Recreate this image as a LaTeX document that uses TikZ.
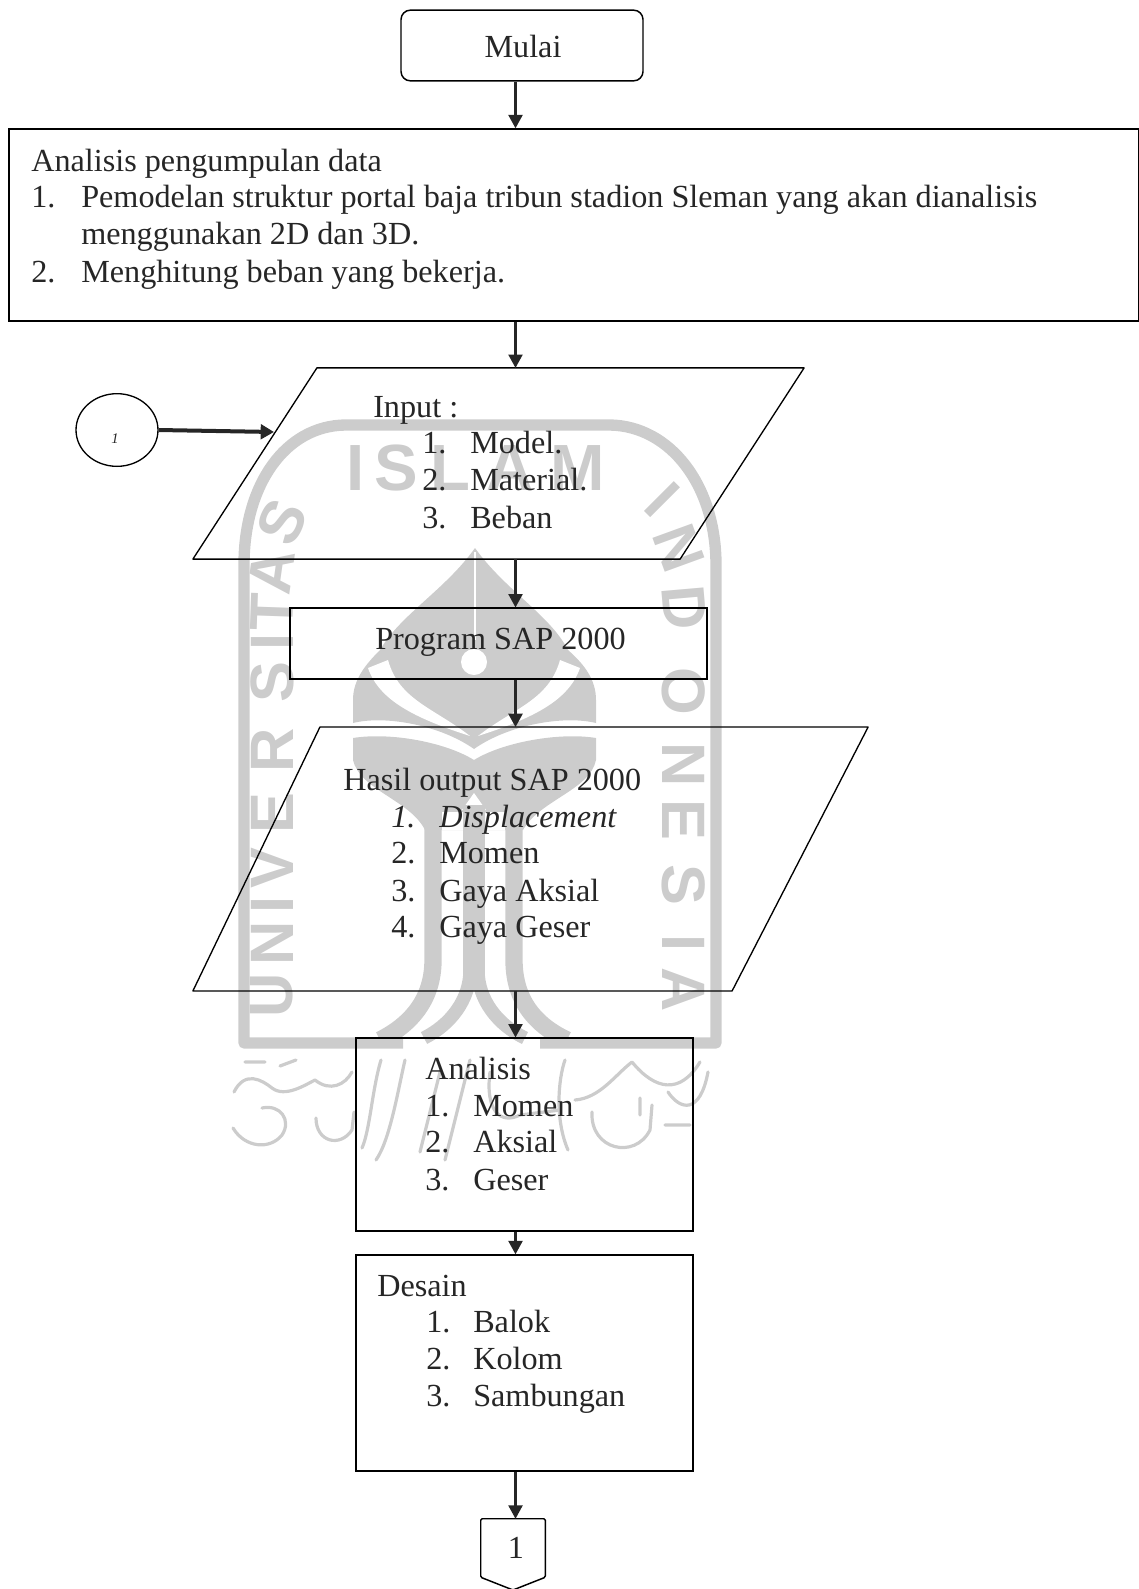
\documentclass[tikz,border=0pt]{standalone}
\usepackage{fontspec}
\setmainfont{Liberation Serif}
\newfontfamily\wmfont{Liberation Sans}
\usetikzlibrary{arrows.meta,shapes.geometric,calc}
\definecolor{wm}{gray}{0.80}
\tikzset{
  x=0.75pt,y=-0.75pt,
  every node/.style={font=\fontsize{24.15}{28}\selectfont,text=black!85},
  boxed/.style={draw=black,line width=1.1pt,inner sep=0,rectangle},
  parabox/.style={inner sep=0,rectangle},
  paraline/.style={draw=black,line width=1pt,line join=round},
  lbl/.style={anchor=base west,inner sep=0,yshift=-0.75pt},
  flow/.style={draw=black!85,line width=1.6pt,-{Triangle[length=10pt,width=10.5pt]}},
  wmline/.style={draw=wm,line cap=round,line join=round},
  wmletter/.style={inner sep=0,text=wm,font=\wmfont\bfseries\fontsize{46}{46}\selectfont}
}
\begin{document}
\begin{tikzpicture}
\useasboundingbox (0,0) rectangle (1139,1589);
% --- watermark
\draw[draw=wm,line width=8.5pt,line join=round] (403,1043) -- (244,1043) -- (244,565) .. controls (244,485) and (285,426) .. (345,425) -- (610,425) .. controls (670,426) and (716,485) .. (716,565) -- (716,1043) -- (540,1043);
\foreach \l/\xx/\yy/\r [count=\i] in {U/272/995/90,N/272/943/90,I/272/905/90,V/272/868/90,E/272/813/90,R/272/750/90,S/272/682/90,I/272/642/90,T/272/612/88,A/272/572/82,S/282/522/65}
  \node[wmletter,rotate=\r] (wu\i) at (\xx,\yy) {\l};
\foreach \l/\xx [count=\i] in {I/356,S/396,L/450,A/510,M/578}
  \node[wmletter,font=\wmfont\bfseries\fontsize{49}{49}\selectfont] (wi\i) at (\xx,468) {\l};
\foreach \l/\xx/\yy/\r [count=\i] in {I/662/500/-45,N/679/548/-70,D/684/608/-85,O/684/691/-90,N/684/765/-90,E/684/820/-90,S/684/885/-90,I/684/943/-90,A/684/990/-90}
  \node[wmletter,rotate=\r] (wn\i) at (\xx,\yy) {\l};
% flame with wings
\fill[wm] (475,548) .. controls (445,590) and (400,615) .. (380,650) .. controls (365,665) and (353,680) .. (353,700) -- (353,723) .. controls (385,715) and (440,725) .. (474,749) .. controls (508,725) and (563,715) .. (596,723) -- (596,700) .. controls (596,680) and (585,665) .. (568,650) .. controls (550,615) and (505,590) .. (475,548) -- cycle;
\fill[white] (474,662) circle[radius=13];
\draw[white,line width=1pt] (475,552) -- (475,640);
\foreach \s in {1,-1}{
  \begin{scope}[shift={(474,0)},xscale=\s]
    \fill[white] (-106,668) .. controls (-95,700) and (-60,718) .. (-4,736) .. controls (-40,708) and (-75,700) .. (-86,660) -- cycle;
  \end{scope}
}
% lower mass and columns
\fill[wm] (353,738) .. controls (390,732) and (445,742) .. (474,760) .. controls (503,742) and (560,732) .. (596,738) -- (596,760) .. controls (590,790) and (540,800) .. (523,830) -- (425,830) .. controls (410,800) and (360,790) .. (353,760) -- cycle;
\fill[white] (474,793) -- (462,810) -- (486,810) -- cycle;
\fill[white] (442,830) -- (463,830) -- (463,812) -- (442,812) -- cycle (485,830) -- (505,830) -- (505,812) -- (485,812) -- cycle;
\draw[draw=wm,line width=13pt] (433,825) -- (433,960) .. controls (433,1000) and (410,1025) .. (380,1040);
\draw[draw=wm,line width=13pt] (514,825) -- (514,960) .. controls (514,1000) and (535,1025) .. (567,1040);
\draw[draw=wm,line width=16pt] (474,805) -- (474,975);
\draw[draw=wm,line width=10pt] (470,970) .. controls (470,1000) and (450,1025) .. (424,1038);
\draw[draw=wm,line width=10pt] (478,970) .. controls (478,1000) and (498,1025) .. (525,1038);
% calligraphy
\draw[wmline,line width=2.4pt] (234,1092) .. controls (245,1070) and (262,1080) .. (272,1088) .. controls (285,1098) and (305,1085) .. (315,1080) .. controls (330,1092) and (345,1085) .. (352,1072)
  (245,1062) -- (265,1062) (280,1066) -- (296,1060)
  (262,1108) .. controls (280,1104) and (292,1120) .. (282,1135) .. controls (270,1150) and (245,1148) .. (233,1128)
  (316,1118) .. controls (316,1142) and (340,1148) .. (352,1130) -- (354,1112)
  (381,1060) .. controls (372,1090) and (370,1130) .. (362,1148)
  (405,1060) .. controls (398,1090) and (390,1140) .. (376,1160)
  (440,1072) -- (420,1152) (470,1060) -- (445,1160) (490,1072) .. controls (485,1110) and (500,1125) .. (520,1115) -- (560,1110)
  (565,1060) .. controls (558,1080) and (555,1120) .. (568,1150)
  (575,1100) .. controls (600,1098) and (615,1075) .. (632,1062) .. controls (655,1090) and (680,1095) .. (700,1062)
  (592,1112) .. controls (590,1150) and (635,1160) .. (650,1130) -- (652,1105)
  (668,1092) .. controls (680,1110) and (700,1115) .. (708,1072)
  (640,1098) -- (640,1115) (665,1125) -- (690,1125);
% --- boxes
\node[boxed,rounded corners=7pt,minimum width=181.5pt,minimum height=53pt] (mulai) at (522,45.5) {};
\node[anchor=center] (tmulai) at (523,46) {Mulai};
\node[boxed,minimum width=847.5pt,minimum height=144pt] (data) at (574,225) {};
\node[parabox,minimum width=458pt,minimum height=143pt] (input) at (498.5,463.5) {};
\draw[paraline] ($(input.north west)+(124,0)$) -- (input.north east) -- ($(input.south east)+(-124,0)$) -- (input.south west) -- cycle;
\node[boxed,minimum width=312.75pt,minimum height=53pt] (prog) at (498.5,643.5) {};
\node[parabox,minimum width=506pt,minimum height=197.5pt] (output) at (530.5,859) {};
\draw[paraline] ($(output.north west)+(127,0)$) -- (output.north east) -- ($(output.south east)+(-136,0)$) -- (output.south west) -- cycle;
\node[boxed,minimum width=252.75pt,minimum height=144.5pt] (anal) at (524.5,1134.5) {};
\node[boxed,minimum width=252.75pt,minimum height=162pt] (desain) at (524.5,1363) {};
\node[draw=black,line width=1pt,ellipse,inner sep=0,minimum width=61.5pt,minimum height=54.5pt] (circ) at (117,430) {};
\node[inner sep=0,font=\fontsize{11}{11}\selectfont\itshape] (circn) at (115,439) {1};
\node[inner sep=0,minimum width=48pt,minimum height=43.5pt] (one) at (513,1548) {\hspace*{4.5pt}\raisebox{-1.5pt}{1}};
\draw[black,line width=1.1pt,rounded corners=1pt] (one.north west) -- (one.north east) -- (one.south east) -- (513,1590) -- (one.south west) -- cycle;
% --- text
\node[lbl] (t0) at (31,170) {Analisis pengumpulan data};
\node[lbl] (t1n) at (31,206) {1.};
\node[lbl] (t1) at (81,206) {Pemodelan struktur portal baja tribun stadion Sleman yang akan dianalisis};
\node[lbl] (t1b) at (81,243) {menggunakan 2D dan 3D.};
\node[lbl] (t2n) at (31,281) {2.};
\node[lbl] (t2) at (81,281) {Menghitung beban yang bekerja.};
\node[lbl] (i0) at (373,416) {Input :};
\node[lbl] (i1n) at (422,452) {1.};
\node[lbl] (i1) at (470,452) {Model.};
\node[lbl] (i2n) at (422,489) {2.};
\node[lbl] (i2) at (470,489) {Material.};
\node[lbl] (i3n) at (422,527) {3.};
\node[lbl] (i3) at (470,527) {Beban};
\node[lbl] (p0) at (375,648) {Program SAP 2000};
\node[lbl] (o0) at (343,789) {Hasil output SAP 2000};
\node[lbl,font=\fontsize{24.15}{28}\selectfont\itshape] (o1n) at (391,826) {1.};
\node[lbl,font=\fontsize{24.15}{28}\selectfont\itshape] (o1) at (439,826) {Displacement};
\node[lbl] (o2n) at (391,862) {2.};
\node[lbl] (o2) at (439,862) {Momen};
\node[lbl] (o3n) at (391,900) {3.};
\node[lbl] (o3) at (439,900) {Gaya Aksial};
\node[lbl] (o4n) at (391,936) {4.};
\node[lbl] (o4) at (439,936) {Gaya Geser};
\node[lbl] (a0) at (425,1078) {Analisis};
\node[lbl] (a1n) at (425,1115) {1.};
\node[lbl] (a1) at (473,1115) {Momen};
\node[lbl] (a2n) at (425,1151) {2.};
\node[lbl] (a2) at (473,1151) {Aksial};
\node[lbl] (a3n) at (425,1189) {3.};
\node[lbl] (a3) at (473,1189) {Geser};
\node[lbl] (d0) at (377,1295) {Desain};
\node[lbl] (d1n) at (426,1331) {1.};
\node[lbl] (d1) at (473,1331) {Balok};
\node[lbl] (d2n) at (426,1368) {2.};
\node[lbl] (d2) at (473,1368) {Kolom};
\node[lbl] (d3n) at (426,1405) {3.};
\node[lbl] (d3) at (473,1405) {Sambungan};
% --- connectors
\coordinate (xa) at (515.5,0);
\coordinate (inp) at (274,432);
\draw[flow] (mulai.south -| xa) -- (data.north -| xa);
\draw[flow] (data.south -| xa) -- (input.north -| xa);
\draw[flow] (input.south -| xa) -- (prog.north -| xa);
\draw[flow] (prog.south -| xa) -- (output.north -| xa);
\draw[flow] (output.south -| xa) -- (anal.north -| xa);
\draw[flow] (anal.south -| xa) -- (desain.north -| xa);
\draw[flow] (desain.south -| xa) -- (one.north -| xa);
\draw[flow,line width=3pt,-{Triangle[length=10pt,width=11pt]}] (circ.east) -- (inp);
\end{tikzpicture}
\end{document}
